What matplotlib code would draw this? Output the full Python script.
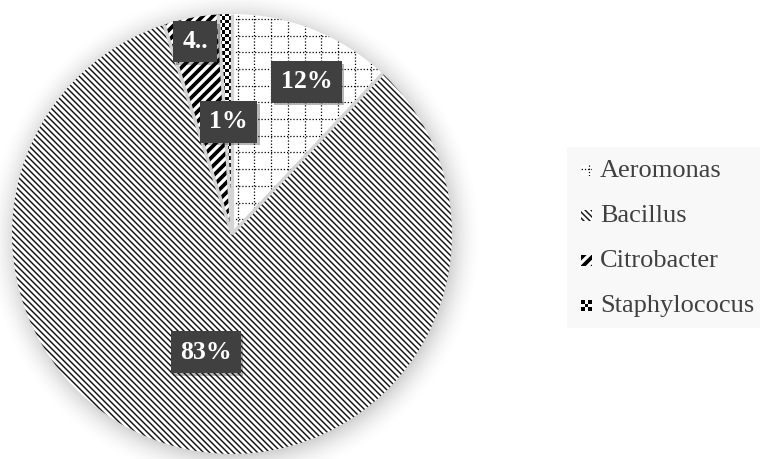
import numpy as np
import matplotlib
matplotlib.use('Agg')
import matplotlib.pyplot as plt
import matplotlib.patheffects as pe
from matplotlib.patches import Rectangle
from matplotlib.collections import LineCollection

plt.rcParams['font.family'] = ['Liberation Serif', 'DejaVu Serif']
plt.rcParams['lines.scale_dashes'] = False

# isolate counts share (%)
genera = ['Aeromonas', 'Bacillus', 'Citrobacter', 'Staphylococus']
shares = [12, 83, 4, 1]
pct_labels = ['12%', '83%', '4..', '1%']
patterns = ['grid', 'dense', 'wide', 'checker']
label_radius = [0.77, 0.55, 0.89, 0.51]
label_turn = [-4.5, 0, 0, 0]

W, H = 760, 459
fig = plt.figure(figsize=(W / 100, H / 100), dpi=100)
ax = fig.add_axes([0, 0, 1, 1])

cx, cy, R = 232, H - 234, 220


def fill_pattern(ax, patch, kind, z):
    verts = patch.get_patch_transform().transform(patch.get_path().vertices)
    x0, y0 = verts.min(axis=0) - 3
    x1, y1 = verts.max(axis=0) + 3
    if kind == 'checker':
        s = 3.5
        nx = int(np.ceil((x1 - x0) / s))
        ny = int(np.ceil((y1 - y0) / s))
        ii, jj = np.indices((ny, nx))
        board = ((ii + jj) % 2).astype(float)
        art = ax.imshow(board, cmap='gray', vmin=0, vmax=1, interpolation='nearest',
                        extent=(x0, x0 + nx * s, y0, y0 + ny * s), origin='lower',
                        zorder=z, aspect='auto')
        art.set_clip_path(patch)
        return
    if kind == 'grid':
        s = 16.7
        xs = np.arange(np.floor(x0 / s) * s + 4, x1, s)
        ys = np.arange(np.floor(y0 / s) * s + 6, y1, s)
        segs = [[(x, y0), (x, y1)] for x in xs] + [[(x0, y), (x1, y)] for y in ys]
        art = LineCollection(segs, colors='black', linewidths=0.9,
                             linestyles=[(0, (0.9, 1.4))])
    elif kind == 'dense':
        s = 6.0
        cs = np.arange(np.floor((x0 + y0) / s) * s, x1 + y1, s)
        segs = [[(c - y0, y0), (c - y1, y1)] for c in cs]
        art = LineCollection(segs, colors='#111111', linewidths=1.05)
    else:  # wide
        s = 10.0
        cs = np.arange(np.floor((y0 - x1) / s) * s, y1 - x0, s)
        segs = [[(y0 - c, y0), (y1 - c, y1)] for c in cs]
        art = LineCollection(segs, colors='black', linewidths=2.7)
    art.set_zorder(z)
    ax.add_collection(art)
    art.set_clip_path(patch)


# soft shadow behind the pie
gy, gx = np.mgrid[0:H, 0:W] + 0.5
d = np.hypot(gx - (cx + 2), gy - (cy - 3))
glow = 0.22 * np.clip(1 - (d - R + 6) / 36, 0, 1) ** 2
shadow = np.zeros((H, W, 4))
shadow[..., 3] = glow
ax.imshow(shadow, extent=(0, W, 0, H), origin='lower', zorder=0, interpolation='bilinear')

wedges, _ = ax.pie(shares, startangle=90, counterclock=False, center=(cx, cy), radius=R,
                   wedgeprops=dict(facecolor='white', edgecolor='none'))
for w, kind in zip(wedges, patterns):
    w.set_zorder(1)
    fill_pattern(ax, w, kind, 2)

# light separators along the slice boundaries
for w in wedges:
    a = np.deg2rad(w.theta1)
    ax.plot([cx, cx + R * np.cos(a)], [cy, cy + R * np.sin(a)],
            color='#d4d4d4', lw=2.4, solid_capstyle='butt', zorder=3)

# data labels
for w, lab, f, turn in zip(wedges, pct_labels, label_radius, label_turn):
    mid = np.deg2rad((w.theta1 + w.theta2) / 2 + turn)
    t = ax.text(cx + f * R * np.cos(mid), cy + f * R * np.sin(mid), lab,
                ha='center', va='center', color='white', fontsize=18.5, fontweight='bold',
                bbox=dict(boxstyle='square,pad=0.36', fc='#404040', ec='none'), zorder=10)
    t.get_bbox_patch().set_path_effects([pe.SimplePatchShadow(offset=(2, -2), alpha=0.3),
                                         pe.Normal()])

# legend
ax.add_patch(Rectangle((567, H - 328), W - 567, 181, facecolor='#f8f8f8',
                       edgecolor='none', zorder=1))
row_y = [171, 216, 261, 306]
for name, kind, ry in zip(genera, patterns, row_y):
    key = Rectangle((581, H - ry - 5), 11, 11, facecolor='white', edgecolor='none', zorder=2)
    ax.add_patch(key)
    fill_pattern(ax, key, kind, 3)
    ax.text(600, H - ry, name, ha='left', va='center', fontsize=19, color='#404040', zorder=4)

ax.set_xlim(0, W)
ax.set_ylim(0, H)
ax.set_aspect('auto')
ax.axis('off')

fig.savefig('out.png', dpi=100, facecolor='white')
